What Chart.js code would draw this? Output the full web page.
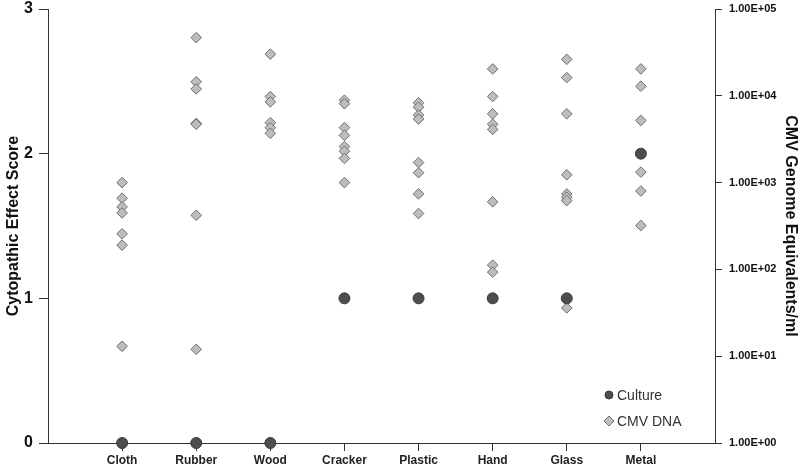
<!DOCTYPE html>
<html>
<head>
<meta charset="utf-8">
<script src="https://cdn.jsdelivr.net/npm/chart.js@4.4.0/dist/chart.umd.min.js"></script>
<style>
  html, body { margin: 0; padding: 0; background: #fff; }
  #wrap { width: 800px; height: 468px; }
</style>
</head>
<body>
<div id="wrap"><canvas id="chart" width="800" height="468"></canvas></div>
<script>
// ===== Data =====
const categories = ["Cloth", "Rubber", "Wood", "Cracker", "Plastic", "Hand", "Glass", "Metal"];
const cultureScores = [0, 0, 0, 1, 1, 1, 1, 2];

// CMV genome equivalents/ml, one array per surface
const cmvCloth   = [1000, 660, 525, 447, 257, 190, 13];
const cmvRubber  = [46800, 14500, 12000, 4800, 4700, 420, 12];
const cmvWood    = [30200, 9800, 8500, 4900, 4300, 3700];
const cmvCracker = [8900, 8100, 4300, 3500, 2600, 2300, 1900, 1000];
const cmvPlastic = [8300, 7400, 6000, 5400, 1700, 1300, 740, 440];
const cmvHand    = [20400, 9800, 6200, 4700, 4100, 600, 112, 93];
const cmvGlass   = [26300, 16200, 6200, 1230, 740, 680, 620, 36];
const cmvMetal   = [20400, 12900, 5200, 1320, 800, 320];
const cmvBySurface = [cmvCloth, cmvRubber, cmvWood, cmvCracker, cmvPlastic, cmvHand, cmvGlass, cmvMetal];

const leftTicks = [0, 1, 2, 3];
const rightTicks = [1, 10, 100, 1000, 10000, 100000];

// ===== Build points =====
const culturePoints = cultureScores.map((v, i) => ({ x: i + 1, y: v }));
let cmvPoints = [];
cmvBySurface.forEach((arr, i) => {
  arr.forEach(v => cmvPoints.push({ x: i + 1, y: v }));
});

function sciLabel(v) {
  return v.toExponential(2).toUpperCase().replace(/E([+-])(\d)$/, "E$10$2");
}

const axisColor = "#333";
const labelFont = "'Liberation Sans', Arial, sans-serif";

// fixed axis width, no extra label padding pushing the plot area
function fixWidth(w) {
  return s => {
    s.width = w;
    s.paddingTop = 0;
    s.paddingBottom = 0;
  };
}

// legend in the lower right corner of the plot
const legendPlugin = {
  id: "cornerLegend",
  afterDraw(chart) {
    const ctx = chart.ctx;
    const area = chart.chartArea;
    const x = area.right - 106;
    const rows = [
      { label: "Culture", ds: chart.data.datasets[0], y: area.bottom - 48, r: 4 },
      { label: "CMV DNA", ds: chart.data.datasets[1], y: area.bottom - 22, r: 5 }
    ];
    ctx.save();
    rows.forEach(row => {
      ctx.fillStyle = row.ds.backgroundColor;
      ctx.strokeStyle = row.ds.borderColor;
      ctx.lineWidth = 1;
      Chart.helpers.drawPoint(ctx, { pointStyle: row.ds.pointStyle, radius: row.r, borderWidth: 1 }, x, row.y);
      ctx.fillStyle = "#333";
      ctx.font = "14px " + labelFont;
      ctx.textBaseline = "middle";
      ctx.textAlign = "left";
      ctx.fillText(row.label, x + 8, row.y + 1);
    });
    ctx.restore();
  }
};

new Chart(document.getElementById("chart"), {
  type: "scatter",
  data: {
    datasets: [
      {
        label: "Culture",
        data: culturePoints,
        yAxisID: "y",
        clip: false,
        pointStyle: "circle",
        pointRadius: 5.5,
        backgroundColor: "#4d4d4d",
        borderColor: "#3a3a3a",
        borderWidth: 1
      },
      {
        label: "CMV DNA",
        data: cmvPoints,
        yAxisID: "y2",
        clip: false,
        pointStyle: "rectRot",
        pointRadius: 5.3,
        backgroundColor: "#bdbdbd",
        borderColor: "#6e6e6e",
        borderWidth: 1
      }
    ]
  },
  options: {
    responsive: false,
    animation: false,
    layout: { padding: { top: 9, right: 0, bottom: 0, left: 0 } },
    plugins: {
      legend: { display: false },
      tooltip: { enabled: false }
    },
    scales: {
      x: {
        type: "linear",
        min: 0,
        max: 9,
        afterBuildTicks: s => { s.ticks = categories.map((_, i) => ({ value: i + 1 })); },
        afterFit: s => { s.height = 25; s.paddingLeft = 0; s.paddingRight = 0; },
        border: { color: axisColor, width: 1 },
        grid: { drawOnChartArea: false, drawTicks: true, tickLength: 8, color: axisColor },
        ticks: {
          padding: 2,
          autoSkip: false,
          maxRotation: 0,
          color: "#222",
          font: { family: labelFont, size: 12, weight: "bold" },
          callback: v => categories[v - 1]
        }
      },
      y: {
        position: "left",
        min: 0,
        max: 3,
        afterBuildTicks: s => { s.ticks = leftTicks.map(v => ({ value: v })); },
        afterFit: fixWidth(48),
        border: { color: axisColor, width: 1 },
        grid: { drawOnChartArea: false, drawTicks: true, tickLength: 9, color: axisColor },
        ticks: {
          padding: 6,
          color: "#111",
          font: { family: labelFont, size: 16, weight: "bold", lineHeight: 1.1 }
        },
        title: {
          display: true,
          text: "Cytopathic Effect Score",
          color: "#111",
          padding: { top: 4, bottom: 0 },
          font: { family: labelFont, size: 16, weight: "bold" }
        }
      },
      y2: {
        type: "logarithmic",
        position: "right",
        min: 1,
        max: 100000,
        afterBuildTicks: s => { s.ticks = rightTicks.map(v => ({ value: v })); },
        afterFit: fixWidth(85),
        border: { color: axisColor, width: 1 },
        grid: { drawOnChartArea: false, drawTicks: true, tickLength: 7, color: axisColor },
        ticks: {
          padding: 7,
          color: "#111",
          font: { family: labelFont, size: 11, weight: "bold" },
          callback: v => sciLabel(v)
        },
        title: {
          display: true,
          text: "CMV Genome Equivalents/ml",
          color: "#111",
          padding: { top: 0, bottom: 0 },
          font: { family: labelFont, size: 16, weight: "bold" }
        }
      }
    }
  },
  plugins: [legendPlugin]
});
</script>
</body>
</html>
